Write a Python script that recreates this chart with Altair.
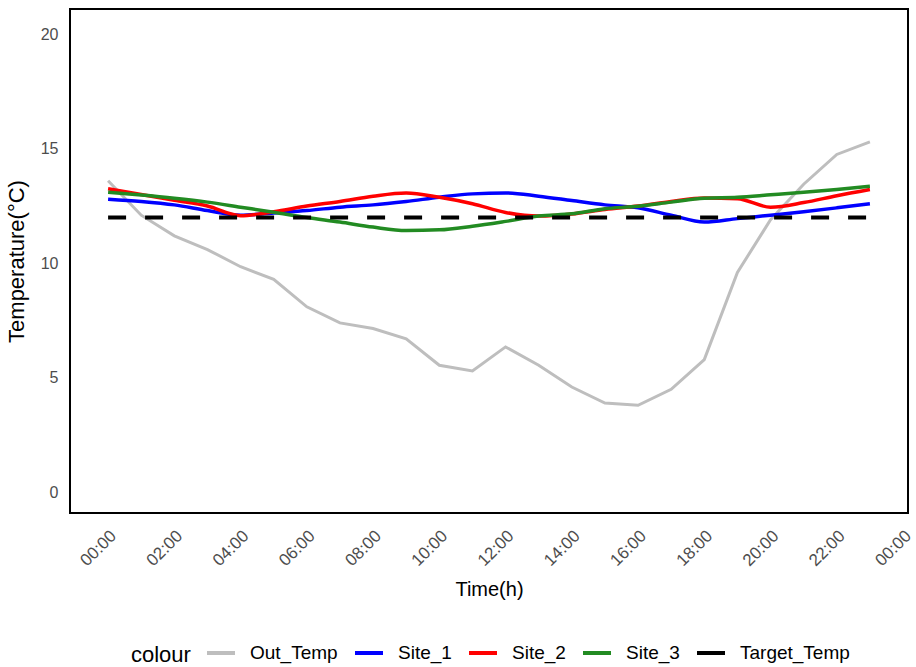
import altair as alt
import pandas as pd

# Hourly readings over one day
times = ["00:00", "01:00", "02:00", "03:00", "04:00", "05:00", "06:00", "07:00",
         "08:00", "09:00", "10:00", "11:00", "12:00", "13:00", "14:00", "15:00",
         "16:00", "17:00", "18:00", "19:00", "20:00", "21:00", "22:00", "23:00"]

out_temp = [13.6, 12.1, 11.2, 10.6, 9.85, 9.3, 8.1, 7.4, 7.15, 6.7, 5.55, 5.3,
            6.35, 5.55, 4.6, 3.9, 3.8, 4.5, 5.8, 9.6, 11.9, 13.45, 14.75, 15.3]
site_1 = [12.8, 12.7, 12.55, 12.3, 12.1, 12.2, 12.3, 12.45, 12.55, 12.7, 12.88, 13.03,
          13.07, 12.93, 12.74, 12.55, 12.42, 12.1, 11.8, 11.95, 12.1, 12.25, 12.42, 12.6]
site_2 = [13.25, 13.0, 12.75, 12.5, 12.08, 12.25, 12.5, 12.7, 12.93, 13.07, 12.88, 12.6,
          12.22, 12.06, 12.15, 12.35, 12.5, 12.7, 12.85, 12.82, 12.45, 12.65, 12.95, 13.22]
site_3 = [13.1, 12.98, 12.84, 12.67, 12.45, 12.23, 12.0, 11.8, 11.58, 11.43, 11.46, 11.62,
          11.83, 12.06, 12.16, 12.38, 12.49, 12.67, 12.84, 12.88, 12.99, 13.1, 13.22, 13.36]
target_temp = [12.0] * 24

series_names = ["Out_Temp", "Site_1", "Site_2", "Site_3", "Target_Temp"]
series_colors = ["#bebebe", "#0000ff", "#ff0000", "#228b22", "#000000"]

hours = [int(t[:2]) for t in times]
rows = []
for name, vals in zip(series_names, [out_temp, site_1, site_2, site_3, target_temp]):
    for h, v in zip(hours, vals):
        rows.append({"hour": h, "temp": v, "series": name})
df = pd.DataFrame(rows)

FONT = "Liberation Sans"

x_enc = alt.X(
    "hour:Q",
    title="Time(h)",
    scale=alt.Scale(domain=[-1.15, 24.15], nice=False, zero=False),
    axis=alt.Axis(
        values=list(range(0, 25, 2)),
        labelExpr="(datum.value % 24 < 10 ? '0' : '') + (datum.value % 24) + ':00'",
        labelAngle=-45,
        labelAlign="right",
        labelBaseline="middle",
        labelOffset=5,
        labelPadding=20,
        labelFontSize=17,
        titlePadding=11,
        titleFontSize=20,
    ),
)
y_enc = alt.Y(
    "temp:Q",
    title="Temperature(°C)",
    scale=alt.Scale(domain=[-0.9, 21.1], nice=False, zero=False),
    axis=alt.Axis(values=[0, 5, 10, 15, 20], labelPadding=12, titlePadding=12,
                  labelFontSize=16, titleFontSize=22),
)
color_enc = alt.Color(
    "series:N",
    scale=alt.Scale(domain=series_names, range=series_colors),
    legend=alt.Legend(
        title="colour",
        orient="none",
        direction="horizontal",
        titleOrient="left",
        titleBaseline="line-top",
        titleLineHeight=12,
        titlePadding=14,
        legendX=61,
        legendY=628,
        symbolType="stroke",
        symbolSize=784,
        symbolStrokeWidth=4,
        labelOffset=13,
        columnPadding=9,
        labelLimit=300,
    ),
)

base = alt.Chart(df).encode(x=x_enc, y=y_enc, color=color_enc)

outdoor = base.transform_filter(alt.datum.series == "Out_Temp").mark_line(
    strokeWidth=3, interpolate="linear"
)
sites = base.transform_filter(
    alt.FieldOneOfPredicate(field="series", oneOf=["Site_1", "Site_2", "Site_3"])
).mark_line(strokeWidth=3.5, interpolate="monotone")
target = base.transform_filter(alt.datum.series == "Target_Temp").mark_line(
    strokeWidth=4, strokeDash=[18, 19]
)

chart = (
    alt.layer(outdoor, sites, target)
    .properties(
        width=838,
        height=504,
        autosize=alt.AutoSizeParams(type="none"),
        padding={"left": 70, "top": 9, "right": 8, "bottom": 154},
        background="white",
    )
    .configure_view(stroke="black", strokeWidth=2)
    .configure_axis(
        grid=False,
        ticks=False,
        tickSize=0,
        domain=False,
        labelFont=FONT,
        labelColor="#4d4d4d",
        titleFont=FONT,
        titleFontWeight="normal",
        titleColor="black",
    )
    .configure_legend(
        labelFont=FONT,
        labelFontSize=19,
        labelColor="black",
        titleFont=FONT,
        titleFontSize=22,
        titleFontWeight="normal",
        titleColor="black",
    )
)

chart.save("out.html", embed_options={"renderer": "svg", "actions": False})
